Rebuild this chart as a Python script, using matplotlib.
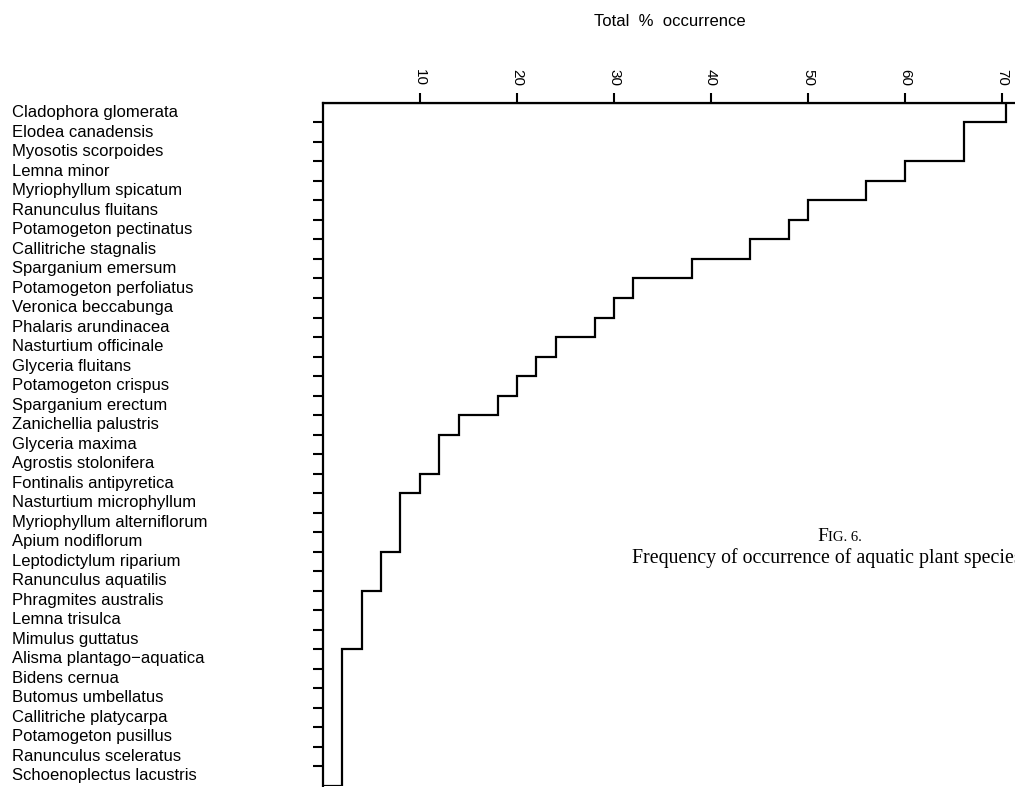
import numpy as np
import matplotlib
matplotlib.use('Agg')
import matplotlib.pyplot as plt
from matplotlib.transforms import blended_transform_factory

species = [
    'Cladophora glomerata', 'Elodea canadensis', 'Myosotis scorpoides',
    'Lemna minor', 'Myriophyllum spicatum', 'Ranunculus fluitans',
    'Potamogeton pectinatus', 'Callitriche stagnalis', 'Sparganium emersum',
    'Potamogeton perfoliatus', 'Veronica beccabunga', 'Phalaris arundinacea',
    'Nasturtium officinale', 'Glyceria fluitans', 'Potamogeton crispus',
    'Sparganium erectum', 'Zanichellia palustris', 'Glyceria maxima',
    'Agrostis stolonifera', 'Fontinalis antipyretica', 'Nasturtium microphyllum',
    'Myriophyllum alterniflorum', 'Apium nodiflorum', 'Leptodictylum riparium',
    'Ranunculus aquatilis', 'Phragmites australis', 'Lemna trisulca',
    'Mimulus guttatus', 'Alisma plantago\u2212aquatica', 'Bidens cernua',
    'Butomus umbellatus', 'Callitriche platycarpa', 'Potamogeton pusillus',
    'Ranunculus sceleratus', 'Schoenoplectus lacustris',
]
occurrence = [70.4, 66, 66, 60, 56, 50, 48, 44, 38, 32, 30, 28, 24, 22, 20,
              18, 14, 12, 12, 10, 8, 8, 8, 6, 6, 4, 4, 4, 2, 2, 2, 2, 2, 2, 2]
xticks = [10, 20, 30, 40, 50, 60, 70]

plt.rcParams['font.family'] = ['Liberation Sans', 'DejaVu Sans']

fig = plt.figure(figsize=(10.15, 7.87), dpi=100)
ax = fig.add_axes([0.318, 0.0017, 0.682, 0.8675])

n = len(species)
edges = np.arange(n + 1)
ax.stairs(occurrence, edges, orientation='horizontal', baseline=0,
          color='black', linewidth=1.6)

ax.set_xlim(0, 71.3)
ax.set_ylim(n, 0)

for s in ['right', 'bottom']:
    ax.spines[s].set_visible(False)
for s in ['left', 'top']:
    ax.spines[s].set_linewidth(1.6)

ax.xaxis.tick_top()
ax.set_xticks(xticks)
ax.set_xticklabels([str(t) for t in xticks], rotation=-90, fontsize=11)
ax.tick_params(axis='x', length=7.5, width=1.5, pad=5)

ax.set_yticks(np.arange(1, n))
ax.set_yticklabels([])
ax.tick_params(axis='y', length=7.5, width=1.5)

trans = blended_transform_factory(fig.transFigure, ax.transData)
for i, name in enumerate(species):
    ax.text(12 / 1015, i + 0.5, name, transform=trans, ha='left', va='center',
            fontsize=12, clip_on=False)

fig.text(670 / 1015, 1 - 22 / 787, 'Total  %  occurrence', ha='center',
         va='center', fontsize=12)

# caption (runs off the right edge in the scan)
fig.text(828 / 1015, 1 - 541 / 787, 'F', ha='right', va='baseline',
         fontsize=14, family='Liberation Serif')
fig.text(828 / 1015, 1 - 541 / 787, 'IG. 6.', ha='left', va='baseline',
         fontsize=10.5, family='Liberation Serif')
fig.text(632 / 1015, 1 - 563 / 787,
         'Frequency of occurrence of aquatic plant species', ha='left',
         va='baseline', fontsize=14.3, family='Liberation Serif')

fig.savefig('out.png', dpi=100)
